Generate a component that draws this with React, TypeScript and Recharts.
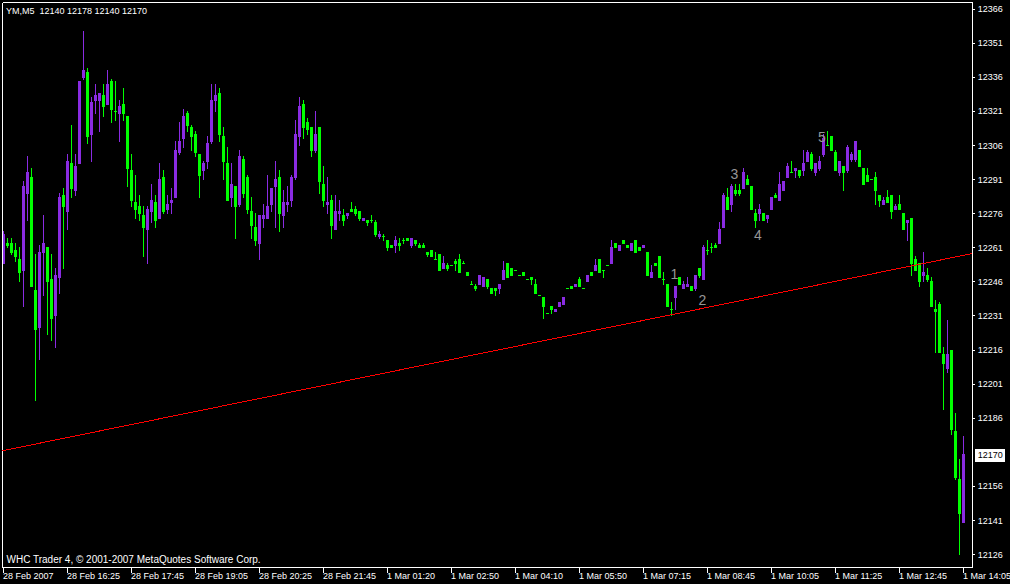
import React from 'react';
import { ComposedChart, Bar, XAxis, YAxis, ReferenceLine, ReferenceDot } from 'recharts';

const symbolTitle = 'YM,M5';
const footerText = 'WHC Trader 4, \u00A9 2001-2007 MetaQuotes Software Corp.';

const opens = [
  12254,12263,12263,12260,12256,12251,12285,12292,12242,12226,12259,12261,12247,12231,12248,12284,12277,12298,12286,12298,
  12336,12338,12311,12326,12326,12328,12324,12334,12321,12320,12324,12319,12295,12281,12279,12275,12269,12277,12281,12274,
  12292,12278,12281,12283,12303,12309,12320,12314,12311,12302,12295,12299,12308,12326,12329,12310,12298,12283,12288,12280,
  12300,12292,12277,12270,12263,12274,12274,12280,12288,12292,12275,12280,12282,12292,12310,12324,12316,12314,12304,12314,
  12289,12280,12282,12269,12276,12275,12275,12278,12278,12277,12273,12273,12273,12272,12266,12266,12264,12262,12262,12263,
  12264,12265,12262,12264,12262,12262,12259,12260,12256,12258,12252,12253,12253,12255,12256,12254,12250,12245,12244,12245,
  12244,12247,12243,12243,12243,12247,12254,12252,12251,12249,12250,12247,12248,12245,12240,12239,12232,12235,12233,12235,
  12236,12243,12244,12244,12247,12243,12246,12250,12251,12256,12251,12253,12254,12263,12260,12264,12262,12260,12264,12261,
  12261,12259,12248,12254,12257,12247,12245,12234,12239,12248,12243,12244,12244,12243,12252,12247,12260,12261,12262,12263,
  12270,12283,12280,12286,12286,12287,12291,12288,12276,12276,12276,12274,12278,12284,12282,12286,12292,12294,12295,12295,
  12295,12299,12302,12294,12296,12302,12306,12310,12303,12294,12297,12295,12300,12300,12304,12296,12293,12291,12292,12284,
  12280,12283,12284,12278,12280,12276,12272,12274,12256,12254,12249,12249,12246,12234,12236,12214,12208,12216,12180,12159,
  12140
];
const highs = [
  12268,12265,12265,12263,12261,12290,12301,12296,12258,12262,12275,12261,12258,12252,12285,12287,12302,12315,12302,12334,
  12356,12340,12327,12333,12329,12333,12339,12335,12334,12326,12331,12319,12302,12293,12284,12279,12279,12289,12284,12298,
  12295,12284,12287,12308,12316,12322,12321,12315,12312,12302,12299,12310,12333,12333,12331,12314,12305,12298,12288,12304,
  12301,12293,12283,12276,12275,12280,12293,12287,12299,12295,12286,12288,12293,12317,12327,12326,12318,12314,12321,12314,
  12297,12292,12284,12284,12282,12278,12276,12281,12279,12277,12274,12273,12275,12273,12268,12267,12264,12262,12266,12265,
  12265,12265,12265,12264,12263,12263,12259,12260,12259,12258,12257,12254,12253,12256,12258,12255,12250,12246,12245,12249,
  12248,12247,12243,12243,12245,12255,12254,12252,12251,12249,12250,12247,12248,12247,12240,12239,12232,12235,12234,12237,
  12239,12243,12244,12245,12248,12243,12249,12250,12256,12256,12251,12253,12264,12263,12262,12264,12262,12263,12264,12261,
  12262,12259,12253,12254,12257,12250,12245,12237,12244,12248,12246,12248,12244,12249,12252,12262,12264,12263,12263,12272,
  12285,12287,12289,12289,12289,12296,12293,12288,12278,12280,12276,12275,12283,12285,12294,12290,12298,12299,12296,12295,
  12304,12304,12303,12298,12301,12311,12312,12310,12304,12299,12297,12306,12303,12308,12304,12296,12296,12291,12294,12284,
  12283,12286,12284,12280,12284,12276,12273,12274,12257,12254,12259,12252,12248,12238,12237,12217,12229,12216,12188,12168,
  12178
];
const lows = [
  12254,12261,12258,12255,12246,12235,12273,12244,12194,12212,12240,12223,12220,12217,12241,12252,12269,12283,12284,12298,
  12335,12307,12299,12320,12312,12319,12324,12316,12317,12308,12317,12288,12279,12274,12273,12257,12254,12272,12270,12274,
  12276,12276,12276,12283,12302,12305,12312,12304,12301,12283,12291,12296,12307,12321,12308,12291,12282,12279,12265,12279,
  12283,12276,12265,12262,12256,12270,12274,12277,12270,12268,12270,12277,12279,12291,12306,12309,12311,12301,12303,12285,
  12279,12276,12265,12269,12273,12271,12274,12277,12275,12273,12273,12271,12272,12266,12265,12264,12260,12261,12259,12260,
  12263,12264,12261,12262,12261,12261,12257,12257,12256,12251,12252,12251,12253,12251,12250,12254,12249,12245,12242,12245,
  12244,12243,12241,12240,12241,12247,12248,12249,12251,12249,12249,12247,12245,12241,12240,12230,12232,12232,12233,12235,
  12236,12243,12243,12244,12244,12243,12246,12249,12251,12250,12248,12253,12254,12261,12260,12263,12261,12260,12259,12260,
  12261,12249,12248,12253,12248,12245,12235,12231,12234,12245,12243,12244,12242,12242,12248,12247,12258,12259,12261,12263,
  12270,12278,12277,12284,12284,12287,12289,12278,12270,12273,12273,12272,12278,12283,12282,12286,12292,12294,12292,12292,
  12293,12299,12295,12293,12295,12301,12306,12304,12295,12293,12286,12294,12299,12299,12297,12289,12290,12291,12280,12279,
  12280,12281,12274,12278,12278,12269,12264,12249,12251,12244,12246,12246,12235,12215,12215,12190,12206,12179,12159,12126,
  12140
];
const closes = [
  12267,12262,12259,12257,12250,12288,12294,12244,12225,12259,12263,12246,12230,12249,12283,12279,12299,12287,12297,12334,
  12339,12310,12325,12328,12329,12323,12333,12322,12321,12323,12320,12296,12282,12278,12276,12270,12278,12282,12273,12291,
  12277,12280,12282,12304,12308,12319,12315,12310,12303,12293,12298,12307,12326,12328,12311,12299,12282,12289,12279,12301,
  12285,12278,12271,12264,12275,12275,12279,12287,12291,12276,12281,12281,12292,12311,12323,12314,12313,12304,12311,12290,
  12282,12281,12271,12277,12277,12273,12276,12277,12276,12274,12274,12272,12273,12267,12267,12266,12261,12261,12264,12262,
  12264,12264,12265,12263,12261,12261,12258,12257,12256,12251,12254,12252,12253,12254,12250,12254,12249,12245,12243,12249,
  12248,12244,12241,12242,12245,12251,12248,12249,12251,12249,12249,12247,12247,12241,12240,12235,12232,12234,12234,12237,
  12239,12243,12243,12245,12244,12243,12249,12249,12253,12250,12251,12253,12261,12261,12262,12263,12261,12263,12259,12260,
  12262,12249,12250,12253,12248,12247,12235,12234,12244,12245,12245,12245,12242,12249,12249,12261,12260,12261,12261,12269,
  12284,12278,12288,12285,12285,12294,12289,12278,12273,12278,12273,12275,12283,12283,12289,12290,12297,12294,12296,12293,
  12298,12303,12296,12298,12299,12309,12306,12304,12295,12299,12294,12305,12302,12308,12297,12289,12290,12291,12286,12282,
  12282,12281,12277,12279,12278,12269,12273,12254,12251,12246,12250,12247,12235,12233,12215,12210,12214,12181,12160,12144,
  12170
];

const xTickIndex = [0, 16, 32, 48, 64, 80, 96, 112, 128, 144, 160, 176, 192, 208, 224, 240];
const xTickLabels = [
  '28 Feb 2007', '28 Feb 16:25', '28 Feb 17:45', '28 Feb 19:05', '28 Feb 20:25', '28 Feb 21:45',
  '1 Mar 01:20', '1 Mar 02:50', '1 Mar 04:10', '1 Mar 05:50', '1 Mar 07:15', '1 Mar 08:45',
  '1 Mar 10:05', '1 Mar 11:25', '1 Mar 12:45', '1 Mar 14:05'
];
const yTicks = [12126, 12141, 12156, 12171, 12186, 12201, 12216, 12231, 12246, 12261, 12276, 12291, 12306, 12321, 12336, 12351, 12366];
const yTickLabels = ['12126', '12141', '12156', '', '12186', '12201', '12216', '12231', '12246', '12261', '12276', '12291', '12306', '12321', '12336', '12351', '12366'];

const waveLabels = ['1', '2', '3', '4', '5'];
const waveIndex = [167.7, 174.7, 182.7, 188.6, 204.6];
const wavePrice = [12249.4, 12238.0, 12293.7, 12266.6, 12309.6];

const trendIndex = [-0.25, 242.25];
const trendPrice = [12171.7, 12258.5];

const xDomain = [-0.25, 242.25];
const yDomain = [12120.32, 12368.95];

const BULL = '#8A2BE2';
const BEAR = '#00FF00';
const FONT = '"Liberation Sans", Arial, sans-serif';

const data = opens.map((o, i) => ({
  idx: i,
  open: o,
  high: highs[i],
  low: lows[i],
  close: closes[i],
}));

const last = data[data.length - 1];

function Candle(props: any) {
  const { x, y, width, height, payload } = props;
  if (x == null || y == null || !payload) return null;
  const cx = x + width / 2;
  const top = Math.min(y, y + height);
  const h = Math.abs(height);
  const { open, close, high, low } = payload;
  const color = close > open ? BULL : BEAR;
  const span = high - low;
  const toY = (v: number) => (span > 0 ? top + ((high - v) / span) * h : top);
  const wTop = Math.floor(top);
  const wBot = Math.floor(top + h) + 1;
  const bTop = Math.floor(toY(Math.max(open, close)));
  const bBot = Math.floor(toY(Math.min(open, close))) + 1;
  return (
    <g shapeRendering="crispEdges">
      <rect x={cx - 0.5} y={wTop} width={1} height={wBot - wTop} fill={color} />
      <rect x={cx - 1.5} y={bTop} width={3} height={bBot - bTop} fill={color} />
    </g>
  );
}

function XTick(props: any) {
  const { x, y, payload } = props;
  const i = xTickIndex.indexOf(payload.value);
  return (
    <g>
      <line x1={x} x2={x} y1={y} y2={y + 5} stroke="#fff" strokeWidth={1} shapeRendering="crispEdges" />
      <text x={x - 0.5} y={y + 11.8} fill="#fff" fontSize={9} fontFamily={FONT}>
        {i >= 0 ? xTickLabels[i] : ''}
      </text>
    </g>
  );
}

function YTick(props: any) {
  const { x, y, payload } = props;
  const i = yTicks.indexOf(payload.value);
  const label = i >= 0 ? yTickLabels[i] : '';
  if (!label) return <g />;
  return (
    <g>
      <line x1={x} x2={x + 2.5} y1={y} y2={y} stroke="#fff" strokeWidth={1} shapeRendering="crispEdges" />
      <text x={x + 5.2} y={y + 3} fill="#fff" fontSize={9} fontFamily={FONT}>
        {label}
      </text>
    </g>
  );
}

function PriceTag(props: any) {
  const vb = props.viewBox || {};
  const right = (vb.x || 0) + (vb.width || 0);
  const y = vb.y || 0;
  return (
    <g>
      <rect x={right + 2.5} y={Math.round(y) - 6.5} width={30} height={13} fill="#fff" shapeRendering="crispEdges" />
      <text x={right + 5.2} y={y + 3} fill="#000" fontSize={9} fontFamily={FONT}>
        {String(last.close)}
      </text>
    </g>
  );
}

function WaveText(label: string) {
  return (p: any) => (
    <text x={p.cx} y={p.cy + 5} textAnchor="middle" fill="#969696" fontSize={14} fontFamily={FONT}>
      {label}
    </text>
  );
}

export default function App() {
  return (
    <div
      style={{
        position: 'absolute',
        left: 0,
        top: 0,
        width: 1010,
        height: 584,
        background: '#000',
        overflow: 'hidden',
      }}
    >
      <ComposedChart
        width={1010}
        height={584}
        data={data}
        margin={{ top: 2.5, right: 0, bottom: 0, left: 2.5 }}
      >
        <XAxis
          dataKey="idx"
          type="number"
          domain={xDomain}
          allowDataOverflow
          ticks={xTickIndex}
          interval={0}
          height={16.5}
          tickSize={0}
          tickMargin={0}
          tickLine={false}
          axisLine={{ stroke: '#fff', strokeWidth: 1, shapeRendering: 'crispEdges' }}
          tick={<XTick />}
        />
        <YAxis
          type="number"
          orientation="right"
          domain={yDomain}
          allowDataOverflow
          ticks={yTicks}
          interval={0}
          width={37.5}
          tickSize={0}
          tickMargin={0}
          tickLine={false}
          axisLine={{ stroke: '#fff', strokeWidth: 1, shapeRendering: 'crispEdges' }}
          tick={<YTick />}
        />
        <ReferenceLine x={xDomain[0]} stroke="#fff" ifOverflow="visible" shapeRendering="crispEdges" />
        <ReferenceLine y={yDomain[1]} stroke="#fff" ifOverflow="visible" shapeRendering="crispEdges" />
        <Bar
          dataKey={(d: any) => [d.low, d.high]}
          barSize={4}
          shape={<Candle />}
          isAnimationActive={false}
        />
        <ReferenceLine
          segment={[
            { x: trendIndex[0], y: trendPrice[0] },
            { x: trendIndex[1], y: trendPrice[1] },
          ]}
          stroke="#ff0000"
          strokeWidth={1}
          ifOverflow="visible"
          shapeRendering="crispEdges"
        />
        {waveLabels.map((w, i) => (
          <ReferenceDot
            key={w}
            x={waveIndex[i]}
            y={wavePrice[i]}
            r={0}
            ifOverflow="visible"
            shape={WaveText(w)}
          />
        ))}
        <ReferenceLine y={last.close} stroke="none" ifOverflow="visible" label={(p: any) => <PriceTag {...p} />} />
      </ComposedChart>
      <svg
        width={1010}
        height={584}
        style={{ position: 'absolute', left: 0, top: 0, pointerEvents: 'none' }}
      >
        <text x={6} y={14} fill="#fff" fontSize={9} fontFamily={FONT} style={{ whiteSpace: 'pre' }}>
          {`${symbolTitle}  ${last.open} ${last.high} ${last.low} ${last.close}`}
        </text>
        <text x={6.5} y={562.7} fill="#fff" fontSize={10} fontFamily={FONT}>
          {footerText}
        </text>
      </svg>
    </div>
  );
}
